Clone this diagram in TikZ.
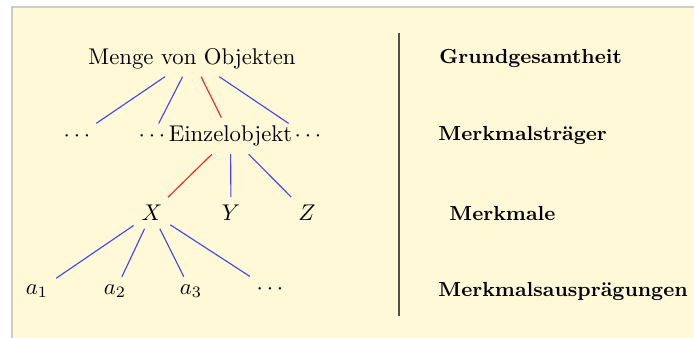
\documentclass[tikz,border=0pt]{standalone}
\begin{document}
\begin{tikzpicture}[x=0.44pt,y=-0.44pt,
  lbl/.style={anchor=base},
  rlbl/.style={anchor=base west,inner sep=0pt,font=\fontsize{8.95}{11}\selectfont\bfseries},
  bl/.style={draw={rgb,255:red,70;green,70;blue,240},line width=0.5pt},
  rd/.style={draw={rgb,255:red,240;green,40;blue,40},line width=0.5pt}]
\definecolor{bgyellow}{RGB}{255,249,216}
\definecolor{bordergray}{RGB}{205,205,200}
\useasboundingbox (0,0) rectangle (694,337);
\path[fill=bgyellow,draw=bordergray,line width=0.8pt] (12,7) rectangle (710,350);
% tree
\node[lbl] (m) at (192,64) {Menge von Objekten};
\node[lbl] (d1) at (77,141.5) {$\cdots$};
\node[lbl] (d2) at (152,141.5) {$\cdots$};
\node[lbl] (e) at (230.5,141.5) {Einzelobjekt};
\node[lbl] (d3) at (308,141.5) {$\cdots$};
\node[lbl] (x) at (152,220.7) {$X$};
\node[lbl] (y) at (231,220.7) {$Y$};
\node[lbl] (z) at (307,220.7) {$Z$};
\node[lbl] (a1) at (37,294.5) {$a_1$};
\node[lbl] (a2) at (115,294.5) {$a_2$};
\node[lbl] (a3) at (191,294.5) {$a_3$};
\node[lbl] (d4) at (270,294.5) {$\cdots$};
\draw[bl] (m) -- (d1);
\draw[bl] (m) -- (d2);
\draw[rd] (m) -- (e);
\draw[bl] (m) -- (d3);
\draw[rd] (e) -- (x);
\draw[bl] (e) -- (y);
\draw[bl] (e) -- (z);
\draw[bl] (x) -- (a1);
\draw[bl] (x) -- (a2);
\draw[bl] (x) -- (a3);
\draw[bl] (x) -- (d4);
% separator
\coordinate (s1) at (399,33);
\coordinate (s2) at (399,316);
\draw[draw={rgb,255:red,80;green,80;blue,70},line width=0.6pt] (s1) -- (s2);
% right labels
\node[rlbl] (g) at (439,63.3) {Grundgesamtheit};
\node[rlbl] (t) at (438,140.5) {Merkmalstr\"ager};
\node[rlbl] (k) at (449,220.7) {Merkmale};
\node[rlbl] (p) at (438,296) {Merkmalsauspr\"agungen};
\end{tikzpicture}
\end{document}
